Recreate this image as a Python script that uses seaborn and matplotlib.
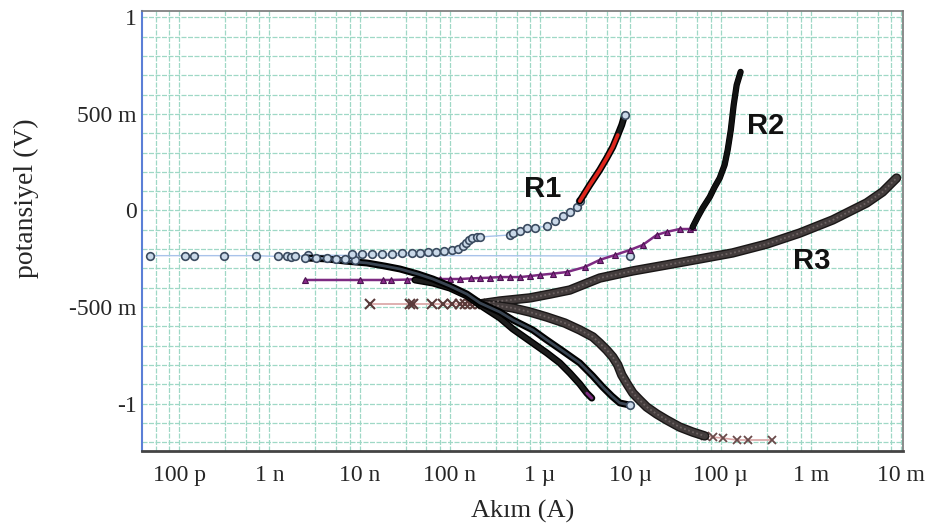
import numpy as np
import pandas as pd
import matplotlib
matplotlib.use("Agg")
import matplotlib.pyplot as plt
import matplotlib.ticker as mticker
import matplotlib.patheffects as pe
import seaborn as sns

# ---------------- data: current (A) / potential (V) ----------------
# R1 (circles)
r1_base_I = [4.8e-11, 1.16e-10, 1.47e-10, 3.15e-10, 7.1e-10, 1.25e-9, 1.57e-9, 1.74e-9, 1.93e-9, 2.69e-9, 9.9e-6]
r1_base_E = [-0.234, -0.234, -0.234, -0.234, -0.234, -0.238, -0.236, -0.240, -0.238, -0.232, -0.236]

r1_knee_I = [2.48e-9, 3.3e-9, 4.35e-9, 5.5e-9, 6.9e-9, 9.0e-9]
r1_knee_E = [-0.246, -0.244, -0.248, -0.250, -0.252, -0.256]

r1_anod_I = [8.24e-9, 1.06e-8, 1.37e-8, 1.77e-8, 2.28e-8, 2.95e-8, 3.80e-8, 4.67e-8, 5.72e-8, 7.01e-8,
             8.59e-8, 1.05e-7, 1.23e-7, 1.40e-7, 1.51e-7, 1.63e-7, 1.76e-7, 2.00e-7, 2.16e-7, 4.63e-7,
             5.00e-7, 5.98e-7, 7.14e-7, 8.76e-7, 1.19e-6, 1.46e-6, 1.79e-6, 2.14e-6, 2.56e-6, 2.76e-6]
r1_anod_E = [-0.225, -0.225, -0.225, -0.225, -0.225, -0.220, -0.220, -0.220, -0.215, -0.215,
             -0.210, -0.205, -0.199, -0.184, -0.168, -0.153, -0.142, -0.137, -0.137, -0.127,
             -0.117, -0.106, -0.091, -0.091, -0.080, -0.054, -0.028, -0.008, 0.018, 0.049]

r1_top_I = [2.76e-6, 3.56e-6, 4.59e-6, 5.49e-6, 6.40e-6, 7.27e-6, 8.05e-6, 8.69e-6]
r1_top_E = [0.049, 0.132, 0.210, 0.272, 0.329, 0.391, 0.443, 0.495]
r1_red_I = [2.76e-6, 3.56e-6, 4.59e-6, 5.49e-6, 6.40e-6, 7.27e-6]
r1_red_E = [0.049, 0.132, 0.210, 0.272, 0.329, 0.391]

r1_cath_I = [2.48e-9, 4.35e-9, 6.89e-9, 1.21e-8, 1.91e-8, 2.80e-8, 4.43e-8, 6.50e-8, 1.00e-7, 1.55e-7,
             2.16e-7, 3.59e-7, 5.00e-7, 8.32e-7, 1.19e-6, 1.79e-6, 2.76e-6, 3.85e-6, 4.96e-6, 6.23e-6,
             7.64e-6, 9.86e-6]
r1_cath_E = [-0.246, -0.251, -0.262, -0.272, -0.288, -0.303, -0.329, -0.355, -0.391, -0.433,
             -0.479, -0.526, -0.567, -0.619, -0.671, -0.728, -0.790, -0.858, -0.915, -0.961,
             -0.997, -1.008]

# R2 (triangles)
r2_anod_I = [2.48e-9, 1.01e-8, 1.82e-8, 2.23e-8, 3.35e-8, 4.43e-8, 5.5e-8, 7.76e-8, 1.0e-7, 1.29e-7,
             1.7e-7, 2.16e-7, 2.8e-7, 3.59e-7, 4.6e-7, 5.98e-7, 7.7e-7, 9.95e-7, 1.4e-6, 1.98e-6,
             3.13e-6, 4.59e-6, 6.73e-6, 9.86e-6, 1.37e-5, 1.96e-5, 2.53e-5, 3.53e-5, 4.56e-5, 4.92e-5]
r2_anod_E = [-0.360, -0.360, -0.360, -0.360, -0.358, -0.355, -0.355, -0.355, -0.355, -0.355,
             -0.352, -0.350, -0.348, -0.345, -0.345, -0.345, -0.340, -0.334, -0.327, -0.319,
             -0.293, -0.256, -0.231, -0.205, -0.179, -0.127, -0.111, -0.096, -0.096, -0.085]

r2_top_I = [4.92e-5, 5.59e-5, 6.35e-5, 7.60e-5, 8.62e-5, 9.80e-5, 1.11e-4, 1.20e-4, 1.30e-4, 1.40e-4, 1.51e-4, 1.67e-4]
r2_top_E = [-0.085, -0.034, 0.013, 0.070, 0.122, 0.168, 0.236, 0.313, 0.417, 0.547, 0.650, 0.718]

r2_cath_I = [4.11e-8, 6.50e-8, 1.00e-7, 1.55e-7, 2.33e-7, 3.59e-7, 5.00e-7, 7.71e-7, 1.19e-6, 1.66e-6,
             2.14e-6, 2.76e-6, 3.30e-6, 3.75e-6]
r2_cath_E = [-0.360, -0.376, -0.402, -0.443, -0.500, -0.557, -0.614, -0.676, -0.738, -0.790,
             -0.842, -0.899, -0.946, -0.972]

# R3 (crosses)
r3_base_I = [1.30e-8, 3.61e-8, 3.90e-8, 6.34e-8, 8.39e-8, 1.05e-7, 1.29e-7, 1.47e-7, 1.67e-7, 1.90e-7, 2.16e-7]
r3_base_E = [-0.484] * 11

r3_anod_I = [2.16e-7, 3.59e-7, 7.71e-7, 1.29e-6, 2.14e-6, 3.13e-6, 4.59e-6, 1.07e-5, 2.53e-5, 5.89e-5,
             1.36e-4, 3.25e-4, 7.54e-4, 1.75e-3, 4.16e-3, 6.25e-3, 8.93e-3]
r3_anod_E = [-0.484, -0.469, -0.453, -0.433, -0.412, -0.381, -0.350, -0.313, -0.282, -0.251,
             -0.220, -0.174, -0.117, -0.049, 0.039, 0.096, 0.168]

r3_cath_I = [2.16e-7, 3.59e-7, 5.00e-7, 7.71e-7, 1.19e-6, 1.88e-6, 2.76e-6, 3.85e-6, 4.59e-6, 5.49e-6,
             6.40e-6, 7.27e-6, 8.05e-6, 9.38e-6, 1.07e-5, 1.27e-5, 1.52e-5, 1.96e-5, 2.53e-5, 3.53e-5,
             4.92e-5, 6.68e-5]
r3_cath_E = [-0.484, -0.495, -0.505, -0.526, -0.552, -0.583, -0.619, -0.655, -0.687, -0.723,
             -0.759, -0.800, -0.852, -0.904, -0.946, -0.982, -1.018, -1.054, -1.085, -1.122,
             -1.148, -1.168]

r3_end_I = [6.68e-5, 8.20e-5, 1.06e-4, 1.51e-4, 2.00e-4, 3.69e-4]
r3_end_E = [-1.168, -1.174, -1.179, -1.189, -1.189, -1.189]

x_ticks = [1e-10, 1e-9, 1e-8, 1e-7, 1e-6, 1e-5, 1e-4, 1e-3, 1e-2]
x_labels = ["100 p", "1 n", "10 n", "100 n", "1 µ", "10 µ", "100 µ", "1 m", "10 m"]
y_ticks = [-1.0, -0.5, 0.0, 0.5, 1.0]
y_labels = ["-1", "-500 m", "0", "500 m", "1"]

curve_labels = ["R1", "R2", "R3"]
label_I = [1.07e-6, 3.16e-4, 1.02e-3]
label_E = [0.111, 0.438, -0.262]

# ---------------- figure ----------------
sns.set_style("white")
plt.rcParams["font.family"] = ["Liberation Serif", "DejaVu Serif"]

fig = plt.figure(figsize=(9.26, 5.32), dpi=100)
ax = fig.add_axes([142 / 926, 1 - 451 / 532, (903 - 142) / 926, (451 - 10.7) / 532])
ax.set_xscale("log")


def line(I, E, **kw):
    sns.lineplot(x=I, y=E, sort=False, estimator=None, ax=ax, **kw)


def band(I, E, inner, lw, edge="black", elw=None, z=3):
    line(I, E, color=inner, lw=lw, zorder=z, solid_capstyle="round", solid_joinstyle="round",
         path_effects=[pe.Stroke(linewidth=elw, foreground=edge), pe.Normal()])


# R1 base line with circles
line(r1_base_I, r1_base_E, color="#a9c3ea", lw=1.0, marker="o", markersize=5.5,
     markerfacecolor="#c9d8e8", markeredgecolor="#3b4b60", markeredgewidth=1.2, zorder=2)
# R2 sparse + anodic purple
line(r2_anod_I, r2_anod_E, color="#7d2a82", lw=1.8, marker="^", markersize=5,
     markerfacecolor="#8a2a8a", markeredgecolor="#4a1450", markeredgewidth=0.8, zorder=4)
# R3 base
line(r3_base_I, r3_base_E, color="#d9a3a3", lw=1.2, marker="x", markersize=7,
     markeredgecolor="#5a3a3a", markeredgewidth=1.5, zorder=2)
line(r3_end_I, r3_end_E, color="#d9a3a3", lw=1.2, marker="x", markersize=6,
     markeredgecolor="#6a4a4a", markeredgewidth=1.3, zorder=2)

# R3 branches (dense crosses -> thick textured band)
for I, E in [(r3_anod_I, r3_anod_E), (r3_cath_I, r3_cath_E)]:
    band(I, E, "#433c3c", 4.8, edge="#1a1717", elw=6.8, z=3)
    line(I, E, color="#6c6262", lw=1.3, ls=(0, (1, 1.4)), zorder=3.5)

# R1 / R2 cathodic branches
band(r2_cath_I, r2_cath_E, "#1c1c1c", 3.0, elw=5.0, z=5)
band(r1_cath_I, r1_cath_E, "#3a4552", 2.0, elw=5.0, z=5)
line(r2_cath_I[-2:], r2_cath_E[-2:], color="#7d2a82", lw=2.0, zorder=6)

# R1 anodic scattered circles
line(r1_knee_I, r1_knee_E, color="#a9c3ea", lw=0.8, marker="o", markersize=5.5,
     markerfacecolor="#c9d8e8", markeredgecolor="#3b4b60", markeredgewidth=1.2, zorder=6)
line(r1_anod_I, r1_anod_E, color="#a9c3ea", lw=1.0, marker="o", markersize=5.5,
     markerfacecolor="#c9d8e8", markeredgecolor="#3b4b60", markeredgewidth=1.2, zorder=6)
band(r1_top_I, r1_top_E, "#1a1a1a", 3.0, elw=5.0, z=6)
line(r1_red_I, r1_red_E, color="#e0251b", lw=2.6, zorder=7)
sns.scatterplot(x=r1_top_I[-1:], y=r1_top_E[-1:], marker="o", s=30, color="#c9d8e8",
                edgecolor="#3b4b60", linewidth=1.2, zorder=8, ax=ax)
sns.scatterplot(x=r1_cath_I[-1:], y=r1_cath_E[-1:], marker="o", s=30, color="#c9d8e8",
                edgecolor="#3b4b60", linewidth=1.2, zorder=8, ax=ax)

# R2 vertical anodic part
band(r2_top_I, r2_top_E, "#111111", 3.5, elw=4.5, z=6)

# curve labels
for t, xi, yi in zip(curve_labels, label_I, label_E):
    ax.text(xi, yi, t, fontsize=21, fontweight="bold", family=["Liberation Sans", "DejaVu Sans"],
            ha="center", va="center", color="#111111", zorder=10)

# axes styling
ax.set_xlim(10 ** -10.41, 10 ** -1.978)
ax.set_ylim(-1.246, 1.035)
ax.xaxis.set_major_locator(mticker.FixedLocator(x_ticks))
ax.xaxis.set_major_formatter(mticker.FixedFormatter(x_labels))
ax.xaxis.set_minor_locator(mticker.LogLocator(base=10, subs=[3.25, 5.5, 7.75], numticks=30))
ax.xaxis.set_minor_formatter(mticker.NullFormatter())
ax.yaxis.set_major_locator(mticker.FixedLocator(y_ticks))
ax.yaxis.set_major_formatter(mticker.FixedFormatter(y_labels))
ax.yaxis.set_minor_locator(mticker.MultipleLocator(0.1))

ax.grid(which="both", color="#9fd8c6", lw=0.9, ls=(0, (4, 1.2)), zorder=0)
ax.set_axisbelow(True)

ax.tick_params(axis="x", which="major", direction="out", length=4, width=1, color="#aaaaaa",
               labelsize=17, pad=6)
ax.tick_params(axis="x", which="minor", length=0)
ax.tick_params(axis="y", which="both", direction="in", length=4, width=1, color="#9aaad0",
               labelsize=17, pad=4)

for s in ["top", "right"]:
    ax.spines[s].set_color("#777777")
    ax.spines[s].set_linewidth(1.2)
ax.spines["bottom"].set_color("#444444")
ax.spines["bottom"].set_linewidth(2)
ax.spines["left"].set_color("#5b7fd6")
ax.spines["left"].set_linewidth(1.5)

ax.set_xlabel("Akım (A)", fontsize=19, labelpad=10)
ax.set_ylabel("potansiyel (V)", fontsize=20)
ax.yaxis.set_label_coords(-0.135, 0.575)

fig.savefig("out.png", dpi=100)
